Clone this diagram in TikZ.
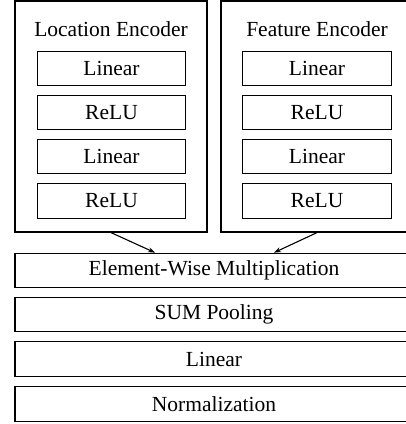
\documentclass[tikz,border=0pt]{standalone}
\usepackage{fontspec}
\setmainfont{Liberation Serif}
\usetikzlibrary{arrows.meta,calc}
\begin{document}
\begin{tikzpicture}[x=1pt,y=1pt,
  every node/.style={font=\fontsize{21.5}{24}\selectfont, inner sep=0pt},
  box/.style={draw, line width=1.2pt, minimum height=34.5pt},
  outer/.style={draw, line width=1.2pt, minimum width=192pt, minimum height=231pt},
  inbox/.style={box, minimum width=148.5pt},
  wide/.style={box, minimum width=398pt},
  arr/.style={line width=1.1pt, -{Stealth[length=7pt,width=5pt]}}
]
\useasboundingbox (0,0) rectangle (406,-424);
\clip (0,0) rectangle (406,-424);
% outer encoders
\node[outer] (loc) at (111,-116.5) {};
\node[outer] (feat) at (317,-116.5) {};
\node (loctitle) at (111,-29) {Location Encoder};
\node (feattitle) at (317,-29) {Feature Encoder};
% left inner
\node[inbox] (l1) at (111.5,-68.5) {Linear};
\node[inbox] (l2) at (111.5,-112.5) {ReLU};
\node[inbox] (l3) at (111.5,-156.5) {Linear};
\node[inbox] (l4) at (111.5,-201) {ReLU};
% right inner
\node[inbox] (r1) at (317,-68.5) {Linear};
\node[inbox] (r2) at (317,-112.5) {ReLU};
\node[inbox] (r3) at (317,-156.5) {Linear};
\node[inbox] (r4) at (317,-201) {ReLU};
% bottom stack
\node[wide] (ew) at (214,-270.5) {Element-Wise Multiplication};
\node[wide] (sum) at (214,-314.5) {SUM Pooling};
\node[wide] (lin) at (214,-359) {Linear};
\node[wide] (norm) at (214,-404) {Normalization};
% arrows
\draw[arr] (loc.south) -- ($(ew.north)+(-59,0)$);
\draw[arr] (feat.south) -- ($(ew.north)+(60,0)$);
\end{tikzpicture}
\end{document}
